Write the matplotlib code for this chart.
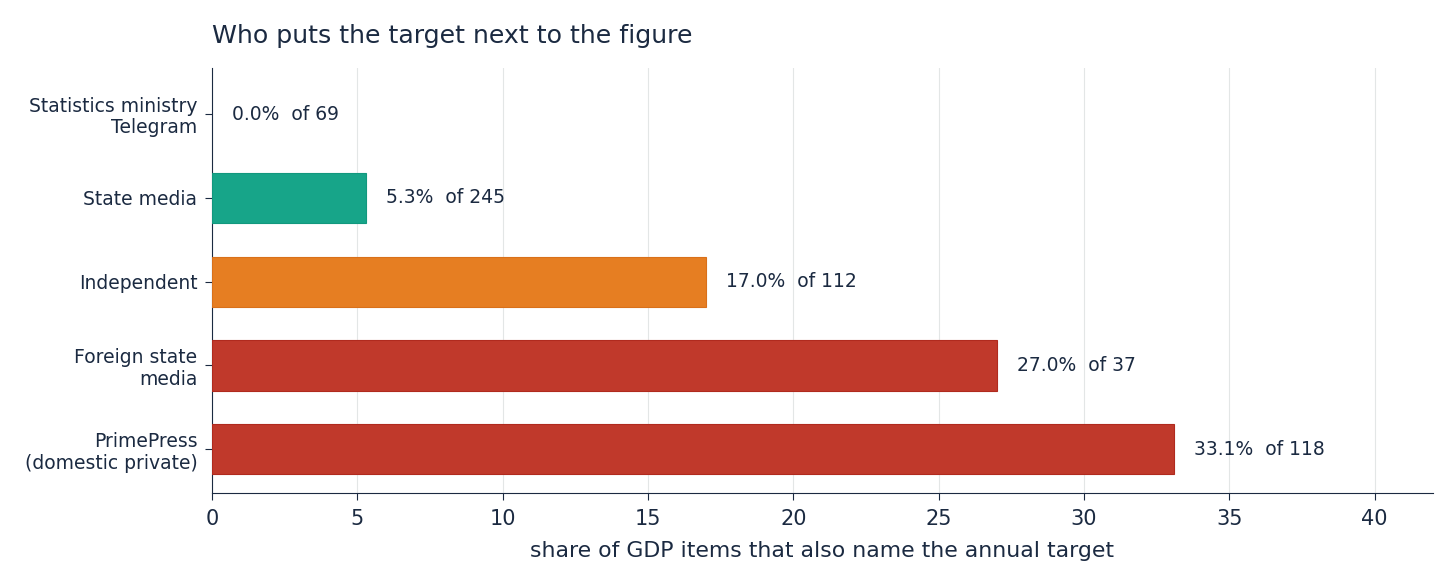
import matplotlib.pyplot as plt

plt.rcParams['font.family'] = ['DejaVu Sans']

categories = ["PrimePress\n(domestic private)", "Foreign state\nmedia", "Independent",
              "State media", "Statistics ministry\nTelegram"]
shares = [33.1, 27.0, 17.0, 5.3, 0.0]
totals = [118, 37, 112, 245, 69]
colors = ["#c0392b", "#c0392b", "#e67e22", "#17a589", "#17a589"]
edges = ["#b02a1e", "#b02a1e", "#d9701a", "#12987e", "#12987e"]

ink = "#1b2a41"

fig, ax = plt.subplots(figsize=(14.56, 5.86), dpi=100)
fig.subplots_adjust(left=0.1456, right=0.984, top=0.884, bottom=0.159)

ypos = range(len(categories))
# no outline on an empty bar, so nothing shows at zero
widths = [0.8 if s > 0 else 0 for s in shares]
ax.barh(ypos, shares, height=0.6, color=colors, edgecolor=edges, linewidth=widths, zorder=3)
for y, s, n in zip(ypos, shares, totals):
    ax.text(s + 0.7, y, f"{s:.1f}%  of {n}", va="center", ha="left",
            fontsize=13.5, color=ink)

ax.set_yticks(list(ypos))
ax.set_yticklabels(categories, fontsize=13.5, color=ink, linespacing=1.15)
ax.set_xlim(0, 42)
ax.set_ylim(-0.52, 4.55)
ax.set_xticks(range(0, 45, 5))
ax.tick_params(axis="x", labelsize=15, colors=ink, length=5, pad=7)
ax.tick_params(axis="y", colors=ink, length=5, pad=5.5)
ax.grid(axis="x", color="#e3e6e6", linewidth=0.8, zorder=0)
ax.spines[["top", "right"]].set_visible(False)
ax.spines[["left", "bottom"]].set_color(ink)
ax.set_xlabel("share of GDP items that also name the annual target", fontsize=15.8,
              color=ink, labelpad=8)
ax.set_title("Who puts the target next to the figure", loc="left", fontsize=18.2,
             color=ink, pad=18)

fig.savefig("out.png")
